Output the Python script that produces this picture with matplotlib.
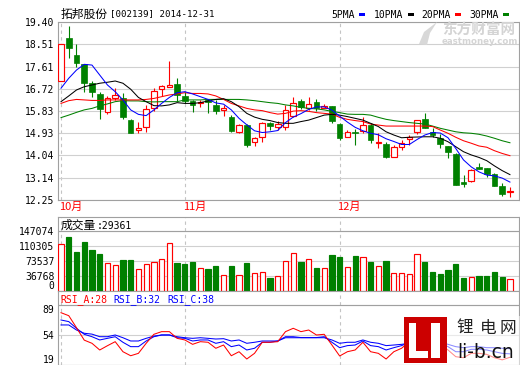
import matplotlib
matplotlib.use("Agg")
import matplotlib.pyplot as plt
from matplotlib.patches import Rectangle, Polygon

# ---- data (2014-10-10 .. 2014-12-31, 59 trading days) ----
month_labels = ["10月", "11月", "12月"]
month_starts = [0, 16, 36]

opens = [17.05, 18.75, 18.07, 17.70, 16.94, 16.51, 15.80, 16.34, 16.34, 15.46,
         15.06, 15.19, 15.93, 16.72, 16.80, 16.91, 16.43, 16.23, 16.13, 16.27,
         16.07, 15.85, 15.60, 14.99, 15.26, 14.59, 14.79, 15.33, 15.19, 15.17,
         15.64, 16.23, 15.93, 16.20, 15.93, 16.03, 15.30, 14.77, 14.99, 15.03,
         15.26, 14.53, 14.50, 13.97, 14.37, 14.70, 14.99, 15.49, 14.99, 14.73,
         14.42, 14.10, 12.96, 13.03, 13.59, 13.52, 13.29, 12.82, 12.58]
highs = [18.52, 19.24, 18.52, 17.72, 17.04, 16.60, 16.43, 16.74, 16.56, 15.50,
         15.39, 16.07, 16.74, 16.87, 17.83, 17.14, 16.60, 16.27, 16.27, 16.30,
         16.27, 16.07, 15.66, 15.30, 15.30, 14.77, 15.40, 15.40, 15.44, 16.07,
         16.38, 16.30, 16.38, 16.30, 16.11, 16.03, 15.33, 15.06, 15.09, 15.60,
         15.33, 14.93, 14.59, 14.46, 14.66, 14.86, 15.46, 15.73, 15.13, 14.90,
         14.42, 14.13, 13.25, 13.48, 13.75, 13.52, 13.32, 12.94, 12.78]
lows = [17.05, 17.94, 17.60, 16.60, 16.40, 15.52, 15.70, 16.27, 15.49, 14.93,
        14.95, 14.99, 15.84, 16.43, 16.80, 16.24, 16.13, 15.80, 15.97, 15.76,
        15.70, 15.64, 14.99, 14.95, 14.39, 14.42, 14.59, 15.06, 15.06, 15.06,
        15.60, 15.89, 15.87, 15.84, 15.93, 15.33, 14.66, 14.77, 14.46, 14.95,
        14.53, 14.33, 13.95, 13.97, 14.26, 14.46, 14.90, 15.13, 14.79, 14.33,
        13.92, 12.85, 12.78, 12.96, 13.48, 13.19, 12.82, 12.41, 12.36]
closes = [18.52, 18.37, 17.74, 16.96, 16.60, 15.89, 16.34, 16.47, 15.60, 14.93,
          15.15, 15.89, 16.64, 16.83, 16.87, 16.47, 16.24, 16.07, 16.20, 16.20,
          15.84, 15.96, 15.03, 15.26, 14.46, 14.73, 15.33, 15.22, 15.29, 15.87,
          16.13, 15.97, 16.09, 15.93, 16.03, 15.44, 14.75, 14.98, 14.95, 15.26,
          14.66, 14.58, 13.99, 14.37, 14.55, 14.79, 15.46, 15.13, 14.86, 14.50,
          14.19, 12.85, 12.88, 13.45, 13.51, 13.29, 12.82, 12.49, 12.62]

ma5 = [16.74, 17.14, 17.47, 17.70, 17.67, 17.27, 16.87, 16.60, 16.27, 15.87,
       15.69, 15.64, 15.87, 16.13, 16.37, 16.56, 16.60, 16.51, 16.40, 16.29,
       16.15, 16.10, 15.87, 15.53, 15.27, 15.03, 14.96, 14.99, 15.04, 15.36,
       15.58, 15.72, 15.89, 15.99, 15.99, 15.86, 15.62, 15.38, 15.17, 15.03,
       14.93, 14.87, 14.71, 14.60, 14.48, 14.48, 14.68, 14.86, 14.96, 14.94,
       14.75, 14.32, 13.86, 13.58, 13.38, 13.25, 13.22, 13.13, 12.97]
ma10 = [16.20, 16.43, 16.67, 16.80, 16.87, 16.94, 16.98, 17.03, 16.94, 16.70,
        16.37, 16.20, 16.04, 16.03, 16.07, 16.16, 16.13, 16.13, 16.16, 16.23,
        16.29, 16.32, 16.20, 16.00, 15.73, 15.58, 15.49, 15.44, 15.36, 15.33,
        15.33, 15.40, 15.46, 15.56, 15.66, 15.69, 15.66, 15.60, 15.53, 15.46,
        15.33, 15.20, 14.99, 14.86, 14.75, 14.77, 14.78, 14.79, 14.79, 14.73,
        14.59, 14.39, 14.19, 14.06, 13.96, 13.83, 13.62, 13.43, 13.27]
ma20 = [16.13, 16.24, 16.29, 16.27, 16.25, 16.25, 16.27, 16.27, 16.27, 16.27,
        16.27, 16.29, 16.33, 16.40, 16.47, 16.51, 16.56, 16.53, 16.53, 16.51,
        16.43, 16.29, 16.13, 16.03, 15.93, 15.87, 15.84, 15.76, 15.70, 15.73,
        15.82, 15.84, 15.81, 15.76, 15.73, 15.70, 15.57, 15.49, 15.44, 15.40,
        15.30, 15.26, 15.22, 15.22, 15.22, 15.22, 15.22, 15.22, 15.20, 15.06,
        14.93, 14.77, 14.63, 14.53, 14.42, 14.37, 14.23, 14.12, 14.03]
ma30 = [15.56, 15.66, 15.77, 15.87, 15.93, 16.03, 16.11, 16.20, 16.24, 16.23,
        16.23, 16.20, 16.19, 16.20, 16.20, 16.20, 16.27, 16.27, 16.27, 16.29,
        16.29, 16.29, 16.29, 16.29, 16.27, 16.24, 16.20, 16.16, 16.13, 16.07,
        16.03, 15.97, 15.93, 15.91, 15.87, 15.81, 15.76, 15.70, 15.69, 15.69,
        15.66, 15.57, 15.49, 15.44, 15.40, 15.36, 15.33, 15.30, 15.22, 15.13,
        15.06, 14.99, 14.95, 14.93, 14.89, 14.82, 14.73, 14.63, 14.55]

volumes = [115700, 131000, 94500, 118800, 99300, 89600, 69400, 64500, 76700, 76700,
           54000, 67000, 71800, 79100, 118100, 67700, 65300, 71800, 56500, 54800,
           62100, 40200, 62100, 39400, 69400, 45000, 47500, 32900, 37000, 73500,
           93000, 71800, 78400, 57200, 56500, 88900, 84000, 58900, 86400, 83300,
           71800, 61400, 74300, 44300, 44300, 41900, 90600, 71800, 47500, 42600,
           52400, 67000, 32900, 34600, 37700, 37700, 47500, 35000, 29361]

rsi_a = [80, 76.5, 62.5, 48, 44.3, 36.5, 41.5, 46.2, 34.5, 29.8,
         32.6, 44.3, 54.8, 57.9, 57.9, 50.1, 48.2, 43.1, 46.2, 45.5,
         38.5, 42.3, 29.8, 34.5, 26, 32.6, 45.5, 45.5, 46.2, 57.9,
         61.8, 57.9, 59.8, 54, 54.8, 42.3, 29.5, 34.5, 36.5, 45.5,
         34.5, 32.6, 26, 34.5, 38.5, 46.2, 59.8, 52, 46.2, 42.3,
         36.5, 28.7, 27.5, 32.6, 32.6, 31.4, 27.5, 25, 28]
rsi_b = [71.5, 69.6, 61.8, 54.8, 52, 48.2, 50.1, 52, 45.5, 40.4,
         40.4, 47, 52, 54, 54, 50.8, 50.1, 47, 48.2, 48.2,
         44.3, 46.2, 40.4, 42.3, 36.5, 38.5, 45.5, 45.5, 47, 52,
         52, 51, 51, 51, 52, 45.5, 39.2, 41.6, 42.3, 47,
         41.6, 40.4, 36.5, 39.2, 41.6, 45.5, 50.8, 48, 46, 44.3,
         40.4, 34.5, 34.5, 37.3, 37.3, 36.5, 34.5, 32.6, 32]
rsi_c = [65.7, 65.7, 59.8, 56, 55, 52, 52, 54, 50.8, 47,
         47, 50.1, 52.7, 54, 54, 52, 50.8, 50.1, 50.8, 50.1,
         49.3, 49.7, 47, 48.2, 44.3, 45.5, 47, 47, 47, 50.8,
         50.8, 50.8, 50.8, 50.8, 50.8, 48.2, 44.3, 45.5, 45.5, 48.2,
         45.5, 44.3, 41.6, 42.3, 43.1, 44.3, 47, 46, 45.5, 45.5,
         43.1, 40.4, 39.2, 40.4, 40.4, 39.2, 39.2, 38.5, 38]

price_ticks = [12.25, 13.14, 14.04, 14.93, 15.83, 16.72, 17.61, 18.51, 19.40]
price_tick_labels = ["12.25", "13.14", "14.04", "14.93", "15.83", "16.72", "17.61", "18.51", "19.40"]
vol_ticks = [0, 36768, 73537, 110305, 147074]
rsi_ticks = [19, 54, 89]

title_name = "拓邦股份"
title_rest = "[002139] 2014-12-31"
ma_names = ["5PMA", "10PMA", "20PMA", "30PMA"]
vol_name = "成交量"
vol_last = ":29361"
rsi_names = ["RSI_A:28", "RSI_B:32", "RSI_C:38"]

# ---- styling ----
RED = "#ff0000"
GREEN = "#008000"
BLUE = "#0000ff"
GRID = "#d0d0d0"
FRAME = "#a0a0a0"
MONO = ["DejaVu Sans Mono", "Noto Sans CJK SC"]
CJK = ["Noto Sans CJK SC", "DejaVu Sans"]
W, H = 520, 365
LW = 0.75

plt.rcParams["font.family"] = MONO


def box(l, t, r, b):
    return [l / W, 1 - b / H, (r - l) / W, (b - t) / H]


def fx(x):
    return x / W


def fy(y):
    return 1 - y / H


fig = plt.figure(figsize=(W / 100, H / 100), dpi=100, facecolor="white")
ax_p = fig.add_axes(box(58, 22, 519, 200))
ax_v = fig.add_axes(box(58, 217, 519, 291))
ax_r = fig.add_axes(box(58, 291, 519, 365))

n = len(closes)
xs = list(range(n))
for ax in (ax_p, ax_v, ax_r):
    ax.set_xlim(-0.39, 59.17)
    ax.set_xticks([])
    ax.tick_params(axis="y", length=0, pad=2.5, labelsize=7)
    for s in ax.spines.values():
        s.set_color(FRAME)
        s.set_linewidth(0.8)
    ax.set_axisbelow(True)
    for m in month_starts:
        ax.axvline(m, color="#c4c4c4", lw=0.8, ls=(0, (3, 3)), zorder=0.5)

# price panel
ax_p.set_ylim(price_ticks[0], price_ticks[-1])
ax_p.set_yticks(price_ticks)
ax_p.set_yticklabels(price_tick_labels)
ax_p.grid(axis="y", color=GRID, lw=0.8)

w = 0.72
for i in xs:
    o, h, l, c = opens[i], highs[i], lows[i], closes[i]
    up = c >= o
    lo, hi = min(o, c), max(o, c)
    body = max(hi - lo, 0.025)
    if up:
        ax_p.vlines(i, hi, h, color=RED, lw=0.8, zorder=2)
        ax_p.vlines(i, l, lo, color=RED, lw=0.8, zorder=2)
        ax_p.bar(i, body, w, bottom=lo, facecolor="white", edgecolor=RED, lw=0.85, zorder=3)
    else:
        ax_p.vlines(i, l, h, color=GREEN, lw=0.8, zorder=2)
        ax_p.bar(i, body, w, bottom=lo, facecolor=GREEN, edgecolor=GREEN, lw=0.5, zorder=3)

for vals, col in zip([ma30, ma20, ma10, ma5], [GREEN, RED, "black", BLUE]):
    ax_p.plot(xs, vals, color=col, lw=LW, zorder=4)

for m, lab in zip(month_starts, month_labels):
    ax_p.text(m - 0.28, -0.012, lab, transform=ax_p.get_xaxis_transform(),
              color=RED, fontsize=8, family=CJK, va="top", ha="left")

# volume panel
ax_v.set_ylim(0, 180500)
ax_v.set_yticks(vol_ticks)
ax_v.set_yticklabels([str(v) for v in vol_ticks])
ax_v.get_yticklabels()[0].set_va("bottom")
ax_v.grid(axis="y", color=GRID, lw=0.8)
ax_v.axhline(vol_ticks[-1], color=FRAME, lw=0.8, zorder=1)
for i in xs:
    up = closes[i] >= opens[i]
    ax_v.bar(i, volumes[i], 0.68, facecolor="white" if up else GREEN,
             edgecolor=RED if up else GREEN, lw=0.85, zorder=3)
ax_v.text(0.005, 0.885, vol_name, transform=ax_v.transAxes, family=CJK,
          fontsize=8.5, va="center", ha="left")
ax_v.text(0.084, 0.885, vol_last, transform=ax_v.transAxes, fontsize=7,
          va="center", ha="left")

# rsi panel
ax_r.set_ylim(19, 105.3)
ax_r.set_yticks(rsi_ticks)
ax_r.set_yticklabels([str(v) for v in rsi_ticks])
ax_r.get_yticklabels()[0].set_va("bottom")
ax_r.get_yticklabels()[-1].set_va("top")
ax_r.grid(axis="y", color=GRID, lw=0.8)
ax_r.axhline(rsi_ticks[-1], color=FRAME, lw=0.8, zorder=1)
ax_r.plot(xs, rsi_c, color=BLUE, lw=LW, zorder=3)
ax_r.plot(xs, rsi_b, color=BLUE, lw=LW, zorder=3)
ax_r.plot(xs, rsi_a, color=RED, lw=LW, zorder=4)
for k, (lab, col) in enumerate(zip(rsi_names, [RED, BLUE, BLUE])):
    fig.text(fx(60 + k * 53.5), fy(300), lab, color=col, fontsize=7, va="center", ha="left")

# title and legend
fig.text(fx(61), fy(14), title_name, family=CJK, fontsize=8.5, va="center", ha="left")
fig.text(fx(110), fy(14), title_rest, fontsize=6.6, va="center", ha="left")
leg_x = [331, 374, 421, 469]
for name, col, x0 in zip(ma_names, [BLUE, "black", RED, GREEN], leg_x):
    fig.text(fx(x0), fy(14.5), name, fontsize=7, va="center", ha="left")
    dx = 6 * len(name) + 4
    fig.add_artist(Rectangle((fx(x0 + dx), fy(15.5)), 6 / W, 3 / H,
                             transform=fig.transFigure, color=col, lw=0))

# eastmoney watermark
fig.add_artist(Polygon([(fx(419), fy(44)), (fx(424), fy(32)), (fx(437), fy(22)),
                        (fx(430), fy(33)), (fx(427), fy(45))],
                       closed=True, transform=fig.transFigure, color="#d8d8d8", lw=0))
fig.text(fx(442), fy(30), "东方财富网", family=CJK, fontsize=10.5, fontweight="bold",
         color="#d4d4d4", va="center", ha="left")
fig.text(fx(442), fy(42), "eastmoney.com", family=["DejaVu Sans"], fontsize=6.2,
         fontweight="bold", color="#d4d4d4", va="center", ha="left")

# li-b.cn watermark
fig.add_artist(Rectangle((fx(447), fy(365)), 73 / W, 49 / H, transform=fig.transFigure,
                         facecolor="white", alpha=0.55, lw=0))
fig.add_artist(Rectangle((fx(404), fy(363)), 43 / W, 46 / H, transform=fig.transFigure,
                         facecolor="#cc0000", lw=0))
for (l, t, r, b) in [(409, 323, 416, 358), (409, 351, 428, 358), (431, 323, 440, 358)]:
    fig.add_artist(Rectangle((fx(l), fy(b)), (r - l) / W, (b - t) / H,
                             transform=fig.transFigure, facecolor="white", lw=0))
for ch, cx in zip("锂电网", [465, 488, 508]):
    fig.text(fx(cx), fy(328), ch, family=CJK, fontsize=12, color="#222222",
             va="center", ha="center")
fig.text(fx(486), fy(353), "li-b.cn", family=["DejaVu Sans"], fontsize=13.5,
         color="#111111", va="center", ha="center")

fig.savefig("out.png", dpi=100, facecolor="white")
